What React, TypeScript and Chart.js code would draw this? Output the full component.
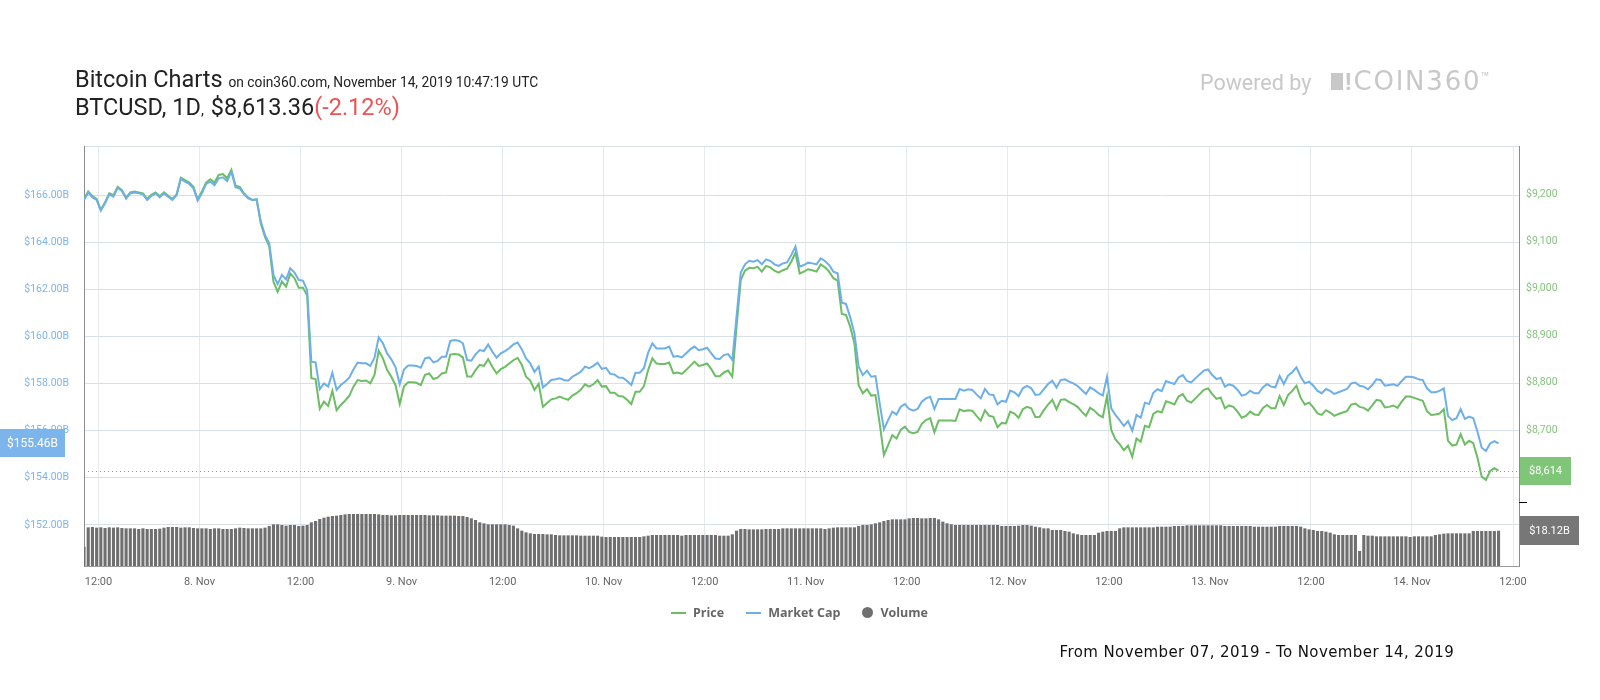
import React, { useEffect, useRef } from 'react';
import { Chart, registerables } from 'chart.js';

Chart.register(...registerables);

// ---------------- data ----------------
// half-hourly samples, x measured in hours since 7 Nov 2019 00:00
const START_HOUR = 10.28;
const STEP_HOURS = 0.5;
const X_MIN = 10.28;
const X_MAX = 180.71;

const TICK_HOURS = [12, 24, 36, 48, 60, 72, 84, 96, 108, 120, 132, 144, 156, 168, 180];
const TICK_LABELS = ['12:00', '8. Nov', '12:00', '9. Nov', '12:00', '10. Nov', '12:00', '11. Nov', '12:00', '12. Nov', '12:00', '13. Nov', '12:00', '14. Nov', '12:00'];

const CAP_TICKS = [152, 154, 156, 158, 160, 162, 164, 166];
const PRICE_TICKS = [8500, 8600, 8700, 8800, 8900, 9000, 9100, 9200];
const CAP_RANGE = [150.26, 168.08];
const PRICE_RANGE = [8411.4, 9302.5];
const VOLUME_RANGE = [0, 215.6];

// Market cap, billions USD
const MARKET_CAP = [
  165.79, 166.11, 165.90, 165.79, 165.34, 165.65, 166.03, 165.93, 166.31, 166.17,
  165.84, 166.07, 166.11, 166.07, 166.03, 165.79, 165.96, 166.07, 165.90, 166.07,
  165.93, 165.79, 165.99, 166.68, 166.57, 166.47, 166.28, 165.76, 166.07, 166.47,
  166.57, 166.42, 166.71, 166.75, 166.59, 166.99, 166.33, 166.28, 166.03, 165.86,
  165.79, 165.82, 164.87, 164.30, 163.95, 162.61, 162.22, 162.61, 162.42, 162.89,
  162.71, 162.39, 162.37, 161.97, 158.93, 158.90, 157.76, 158.01, 157.87, 158.46,
  157.73, 157.94, 158.08, 158.25, 158.60, 158.89, 158.86, 158.86, 158.75, 159.10,
  159.96, 159.71, 159.28, 159.03, 158.69, 157.98, 158.60, 158.77, 158.77, 158.75,
  158.67, 159.07, 159.11, 158.90, 158.96, 159.14, 159.14, 159.81, 159.85, 159.82,
  159.71, 159.00, 158.97, 159.24, 159.42, 159.38, 159.66, 159.35, 159.10, 159.28,
  159.38, 159.50, 159.66, 159.74, 159.45, 159.07, 158.86, 158.50, 158.72, 157.84,
  157.98, 158.15, 158.18, 158.22, 158.15, 158.12, 158.29, 158.39, 158.50, 158.72,
  158.65, 158.75, 158.89, 158.62, 158.67, 158.41, 158.39, 158.26, 158.25, 158.11,
  157.94, 158.46, 158.46, 158.65, 159.31, 159.71, 159.49, 159.49, 159.49, 159.57,
  159.14, 159.17, 159.11, 159.28, 159.45, 159.57, 159.42, 159.46, 159.52, 159.28,
  159.06, 159.04, 159.21, 159.25, 159.00, 160.84, 162.71, 163.06, 163.21, 163.17,
  163.24, 163.06, 163.27, 163.21, 163.06, 162.99, 163.10, 163.14, 163.45, 163.81,
  162.96, 163.03, 163.13, 163.10, 163.06, 163.31, 163.20, 163.03, 162.75, 162.68,
  161.43, 161.38, 160.81, 160.13, 158.72, 158.36, 158.55, 158.29, 158.32, 157.16,
  156.06, 156.45, 156.81, 156.69, 157.02, 157.13, 156.92, 156.85, 156.92, 157.23,
  157.37, 157.44, 156.92, 157.35, 157.35, 157.35, 157.35, 157.35, 157.77, 157.70,
  157.76, 157.73, 157.54, 157.37, 157.77, 157.54, 157.52, 157.12, 157.27, 157.23,
  157.70, 157.63, 157.47, 157.80, 157.90, 157.80, 157.52, 157.54, 157.76, 157.98,
  158.12, 157.83, 158.15, 158.18, 158.08, 158.01, 157.90, 157.73, 157.56, 157.84,
  157.73, 157.59, 157.49, 158.29, 156.95, 156.67, 156.45, 156.20, 156.41, 156.00,
  156.67, 156.55, 157.19, 157.13, 157.61, 157.76, 157.68, 158.11, 158.04, 157.98,
  158.26, 158.36, 158.11, 158.05, 158.22, 158.39, 158.55, 158.60, 158.36, 158.19,
  158.25, 157.87, 157.97, 157.91, 157.73, 157.49, 157.54, 157.70, 157.59, 157.59,
  157.84, 157.98, 157.87, 157.84, 158.32, 157.98, 158.34, 158.48, 158.69, 158.29,
  158.01, 158.08, 157.91, 157.69, 157.59, 157.77, 157.69, 157.56, 157.63, 157.70,
  157.77, 158.01, 158.04, 157.91, 157.87, 157.76, 157.94, 158.18, 158.15, 157.91,
  157.94, 157.97, 157.90, 158.11, 158.29, 158.29, 158.26, 158.18, 158.15, 157.80,
  157.63, 157.63, 157.69, 157.80, 156.62, 156.45, 156.53, 156.91, 156.50, 156.60,
  156.53, 155.96, 155.28, 155.14, 155.46, 155.56, 155.46,
];

// Price, USD
const PRICE = [
  9190, 9206, 9196, 9190, 9167, 9183, 9202, 9198, 9216, 9209,
  9193, 9204, 9206, 9204, 9202, 9190, 9199, 9204, 9196, 9204,
  9197, 9190, 9200, 9235, 9230, 9225, 9216, 9189, 9206, 9225,
  9232, 9225, 9241, 9243, 9234, 9252, 9218, 9216, 9202, 9193,
  9188, 9189, 9138, 9109, 9090, 9015, 8993, 9015, 9004, 9032,
  9022, 9002, 9002, 8986, 8810, 8808, 8745, 8760, 8751, 8783,
  8742, 8753, 8762, 8772, 8792, 8806, 8804, 8805, 8799, 8817,
  8868, 8852, 8827, 8813, 8795, 8755, 8792, 8801, 8801, 8800,
  8795, 8817, 8820, 8808, 8811, 8820, 8822, 8860, 8861, 8860,
  8854, 8814, 8813, 8827, 8838, 8836, 8850, 8834, 8820, 8829,
  8834, 8841, 8848, 8853, 8838, 8813, 8805, 8785, 8798, 8749,
  8757, 8765, 8767, 8771, 8767, 8764, 8773, 8778, 8785, 8797,
  8792, 8797, 8806, 8792, 8793, 8779, 8779, 8772, 8771, 8764,
  8755, 8781, 8781, 8793, 8827, 8852, 8841, 8840, 8840, 8843,
  8820, 8822, 8819, 8827, 8836, 8845, 8836, 8838, 8841, 8829,
  8814, 8814, 8822, 8826, 8813, 8919, 9018, 9038, 9044, 9043,
  9046, 9036, 9048, 9045, 9038, 9034, 9039, 9042, 9057, 9076,
  9032, 9036, 9041, 9039, 9036, 9051, 9045, 9036, 9022, 9017,
  8946, 8944, 8919, 8884, 8795, 8778, 8787, 8773, 8774, 8714,
  8647, 8668, 8689, 8682, 8700, 8707, 8696, 8693, 8696, 8713,
  8721, 8725, 8695, 8720, 8720, 8720, 8720, 8719, 8744, 8740,
  8742, 8741, 8730, 8720, 8742, 8730, 8728, 8706, 8715, 8714,
  8739, 8735, 8726, 8744, 8749, 8746, 8727, 8728, 8742, 8754,
  8764, 8744, 8764, 8765, 8759, 8755, 8749, 8739, 8730, 8747,
  8741, 8732, 8727, 8772, 8700, 8680, 8670, 8657, 8667, 8643,
  8682, 8675, 8709, 8706, 8734, 8740, 8737, 8761, 8758, 8754,
  8771, 8776, 8762, 8758, 8767, 8776, 8785, 8788, 8776, 8766,
  8769, 8746, 8752, 8749, 8739, 8726, 8730, 8739, 8733, 8732,
  8746, 8753, 8746, 8746, 8772, 8753, 8774, 8783, 8794, 8768,
  8754, 8758, 8748, 8735, 8732, 8742, 8737, 8730, 8734, 8737,
  8740, 8754, 8756, 8749, 8747, 8741, 8752, 8764, 8762, 8748,
  8749, 8752, 8747, 8760, 8771, 8771, 8768, 8765, 8762, 8740,
  8732, 8733, 8735, 8744, 8677, 8667, 8669, 8691, 8669, 8677,
  8672, 8641, 8601, 8594, 8613, 8619, 8614,
];

// Volume, billions USD
const VOLUME = [
  9.92, 19.85, 20.03, 19.68, 19.85, 19.52, 19.85, 19.68, 19.85, 19.52,
  19.33, 19.33, 19.33, 18.99, 19.33, 18.99, 18.99, 18.99, 19.16, 19.68,
  20.03, 20.03, 20.03, 19.68, 19.85, 19.85, 19.52, 19.33, 19.33, 19.33,
  18.99, 19.33, 19.33, 18.99, 18.99, 18.99, 19.33, 19.68, 19.52, 19.33,
  19.33, 19.33, 19.33, 19.68, 20.53, 21.39, 21.39, 21.05, 20.70, 21.05,
  21.05, 20.53, 20.70, 21.05, 22.41, 23.10, 24.13, 24.81, 25.32, 25.67,
  25.84, 26.18, 26.52, 26.69, 26.69, 26.69, 26.69, 26.69, 26.69, 26.69,
  26.52, 26.18, 26.18, 26.01, 26.01, 26.18, 26.18, 26.18, 26.18, 26.18,
  26.18, 26.18, 26.01, 26.01, 26.01, 25.84, 25.84, 25.84, 25.84, 25.67,
  25.67, 25.15, 24.47, 23.61, 22.41, 21.90, 21.39, 21.39, 21.39, 21.39,
  21.39, 21.05, 20.70, 19.33, 18.14, 17.28, 16.77, 16.43, 16.43, 16.43,
  16.25, 16.25, 15.91, 15.74, 15.74, 15.74, 15.74, 15.74, 15.57, 15.57,
  15.57, 15.57, 15.57, 15.06, 14.89, 14.89, 14.89, 14.89, 14.89, 14.89,
  14.89, 14.89, 14.89, 15.23, 15.57, 15.91, 15.91, 15.91, 15.91, 15.91,
  15.91, 15.91, 15.57, 15.91, 15.91, 15.91, 15.91, 15.91, 15.91, 15.91,
  15.91, 15.57, 15.57, 15.57, 16.25, 18.14, 18.99, 18.99, 18.82, 18.82,
  18.82, 18.82, 18.99, 18.99, 18.99, 18.99, 19.33, 19.33, 19.33, 19.33,
  19.33, 19.33, 19.33, 19.33, 19.33, 19.33, 18.99, 19.33, 19.68, 19.85,
  19.85, 19.85, 19.85, 19.85, 20.53, 21.05, 21.05, 21.39, 21.90, 22.41,
  23.10, 23.61, 23.95, 23.95, 23.95, 23.95, 24.47, 24.64, 24.64, 24.47,
  24.47, 24.64, 24.64, 23.95, 22.76, 21.90, 21.39, 21.05, 21.05, 21.05,
  21.05, 21.05, 21.05, 21.05, 21.05, 21.05, 21.05, 21.05, 20.53, 20.53,
  20.53, 20.53, 20.70, 21.05, 21.05, 20.70, 20.19, 19.85, 19.33, 19.33,
  18.48, 18.48, 18.48, 17.97, 17.62, 16.77, 16.25, 15.91, 15.91, 15.91,
  15.91, 17.11, 17.62, 17.97, 17.97, 17.97, 19.33, 19.85, 19.85, 19.85,
  19.85, 19.85, 19.85, 19.85, 19.85, 20.19, 20.19, 20.19, 20.19, 20.53,
  20.53, 20.53, 20.87, 20.87, 20.87, 20.87, 20.87, 20.87, 20.87, 20.87,
  20.87, 20.53, 20.53, 20.53, 20.53, 20.53, 20.53, 20.53, 20.19, 20.19,
  20.19, 20.19, 20.19, 20.19, 20.53, 20.53, 20.53, 20.53, 20.53, 20.19,
  19.33, 18.82, 18.48, 17.97, 17.97, 17.62, 17.11, 16.25, 15.91, 15.91,
  15.91, 15.91, 15.91, 7.70, 15.91, 15.57, 15.57, 15.23, 15.23, 15.23,
  15.23, 15.23, 15.23, 15.23, 15.23, 14.89, 15.23, 15.23, 15.23, 15.23,
  15.23, 15.91, 16.25, 16.60, 16.77, 16.77, 16.77, 16.77, 16.77, 16.77,
  17.97, 17.97, 17.97, 17.97, 17.97, 17.97, 18.12,
];

const TITLE = 'Bitcoin Charts';
const SUBTITLE = 'on coin360.com, November 14, 2019 10:47:19 UTC';
const PAIR = 'BTCUSD';
const INTERVAL = '1D';
const LIVE_PRICE = 8613.36;
const CHANGE_PCT = -2.12;
const RANGE_TEXT = 'From November 07, 2019 - To November 14, 2019';
const SERIES_NAMES = ['Price', 'Market Cap', 'Volume'];

// ---------------- styles ----------------
const PRICE_COLOR = '#6cbd63';
const CAP_COLOR = '#6cafe9';
const VOLUME_COLOR = '#6f6f6f';
const CAP_LABEL_COLOR = '#7cb5ec';
const PRICE_LABEL_COLOR = '#87c47f';
const PRICE_TAG_COLOR = '#7fc679';
const CAP_TAG_COLOR = '#7cb5ec';
const VOLUME_TAG_COLOR = '#777777';
const VOL_PANE_FRACTION = 0.153;

const FONT = 'Roboto, "Noto Sans", sans-serif';

const last = (a: number[]) => a[a.length - 1];

function drawTag(ctx: CanvasRenderingContext2D, x: number, yc: number, w: number, h: number, fill: string, text: string, size: number) {
  ctx.fillStyle = fill;
  ctx.fillRect(x, Math.round(yc - h / 2), w, h);
  ctx.fillStyle = '#ffffff';
  ctx.font = `${size}px ${FONT}`;
  ctx.textAlign = 'center';
  ctx.textBaseline = 'middle';
  ctx.fillText(text, x + w / 2, yc + 0.5);
}

const overlayPlugin = {
  id: 'overlayTags',
  beforeDatasetsDraw(chart: any) {
    const { ctx, chartArea, scales } = chart;
    const y = Math.round(scales.yPrice.getPixelForValue(last(PRICE))) + 0.5;
    ctx.save();
    ctx.strokeStyle = '#8d99a3';
    ctx.lineWidth = 1;
    ctx.setLineDash([1, 3]);
    ctx.beginPath();
    ctx.moveTo(chartArea.left, y);
    ctx.lineTo(chartArea.right, y);
    ctx.stroke();
    ctx.restore();
  },
  afterDraw(chart: any) {
    const { ctx, chartArea, scales } = chart;
    ctx.save();
    // volume pane tick on the right axis
    const yt = Math.round(chartArea.bottom - VOL_PANE_FRACTION * (chartArea.bottom - chartArea.top)) + 0.5;
    ctx.strokeStyle = '#000000';
    ctx.lineWidth = 1;
    ctx.beginPath();
    ctx.moveTo(chartArea.right, yt);
    ctx.lineTo(chartArea.right + 8, yt);
    ctx.stroke();

    const capY = scales.yCap.getPixelForValue(last(MARKET_CAP));
    drawTag(ctx, scales.yCap.left, capY, scales.yCap.width - 19, 28, CAP_TAG_COLOR, `$${last(MARKET_CAP).toFixed(2)}B`, 12);

    const priceY = scales.yPrice.getPixelForValue(last(PRICE));
    drawTag(ctx, chartArea.right + 1, priceY, 51, 28, PRICE_TAG_COLOR, `$${Math.round(last(PRICE)).toLocaleString('en-US')}`, 11);

    const volY = scales.yVol.getPixelForValue(last(VOLUME));
    drawTag(ctx, chartArea.right + 1, volY, 59, 29, VOLUME_TAG_COLOR, `$${last(VOLUME).toFixed(2)}B`, 11);
    ctx.restore();
  },
};

function ChartCanvas() {
  const ref = useRef<HTMLCanvasElement | null>(null);
  useEffect(() => {
    if (!ref.current) return;
    const toPoints = (arr: number[]) => arr.map((v, i) => ({ x: START_HOUR + STEP_HOURS * i, y: v }));
    const chart = new Chart(ref.current, {
      type: 'line',
      data: {
        datasets: [
          {
            type: 'line', label: SERIES_NAMES[0], data: toPoints(PRICE), yAxisID: 'yPrice',
            borderColor: PRICE_COLOR, borderWidth: 2, pointRadius: 0, tension: 0, fill: false, order: 2,
          },
          {
            type: 'line', label: SERIES_NAMES[1], data: toPoints(MARKET_CAP), yAxisID: 'yCap',
            borderColor: CAP_COLOR, borderWidth: 2, pointRadius: 0, tension: 0, fill: false, order: 1,
          },
          {
            type: 'bar', label: SERIES_NAMES[2], data: toPoints(VOLUME), yAxisID: 'yVol',
            backgroundColor: VOLUME_COLOR, borderWidth: 0, barPercentage: 0.74, categoryPercentage: 1, order: 3,
          },
        ] as any,
      },
      options: {
        animation: false,
        responsive: false,
        events: [],
        layout: { padding: { top: 146, left: 0, right: 0, bottom: 0 } },
        plugins: { legend: { display: false }, tooltip: { enabled: false } },
        scales: {
          x: {
            type: 'linear', min: X_MIN, max: X_MAX, offset: false,
            afterBuildTicks: (s: any) => { s.ticks = TICK_HOURS.map((v) => ({ value: v })); },
            afterFit: (s: any) => { s.height = 134; },
            ticks: {
              autoSkip: false, maxRotation: 0, padding: 10, color: '#666666',
              font: { family: FONT, size: 11 },
              callback: (_v: any, i: number) => TICK_LABELS[i],
            },
            grid: { color: '#e6eaee', drawTicks: false, offset: false },
            border: { color: '#9a9a9a' },
          },
          yCap: {
            type: 'linear', position: 'left', min: CAP_RANGE[0], max: CAP_RANGE[1],
            afterBuildTicks: (s: any) => { s.ticks = [...CAP_TICKS, CAP_RANGE[1]].map((v) => ({ value: v })); },
            afterFit: (s: any) => { s.width = 84; },
            ticks: {
              padding: 15, color: CAP_LABEL_COLOR, font: { family: FONT, size: 10.5 },
              callback: (v: any) => (v >= CAP_RANGE[1] ? '' : `$${Number(v).toFixed(2)}B`),
            },
            grid: { color: '#d6e0e8', drawTicks: false },
            border: { color: '#8c8c8c' },
          },
          yPrice: {
            type: 'linear', position: 'right', min: PRICE_RANGE[0], max: PRICE_RANGE[1],
            afterBuildTicks: (s: any) => { s.ticks = PRICE_TICKS.map((v) => ({ value: v })); },
            afterFit: (s: any) => { s.width = 81; },
            ticks: {
              padding: 7, color: PRICE_LABEL_COLOR, font: { family: FONT, size: 10.5 },
              callback: (v: any) => `$${Number(v).toLocaleString('en-US')}`,
            },
            grid: { display: false, drawTicks: false },
            border: { color: '#8c8c8c' },
          },
          yVol: { type: 'linear', display: false, min: VOLUME_RANGE[0], max: VOLUME_RANGE[1] },
        },
      } as any,
      plugins: [overlayPlugin],
    });
    return () => chart.destroy();
  }, []);
  return <canvas ref={ref} width={1600} height={700} style={{ position: 'absolute', left: 0, top: 0, width: 1600, height: 700 }} />;
}

function LegendItem({ kind, color, text }: { kind: 'line' | 'circle'; color: string; text: string }) {
  return (
    <div style={{ display: 'flex', alignItems: 'center' }}>
      {kind === 'line' ? (
        <span style={{ display: 'inline-block', width: 15, height: 2, background: color }} />
      ) : (
        <span style={{ display: 'inline-block', width: 11, height: 11, borderRadius: '50%', background: color }} />
      )}
      <span style={{ marginLeft: 7 }}>{text}</span>
    </div>
  );
}

export default function App() {
  const livePrice = LIVE_PRICE.toLocaleString('en-US', { minimumFractionDigits: 2, maximumFractionDigits: 2 });
  return (
    <div style={{ position: 'absolute', left: 0, top: 0, width: 1600, height: 700, background: '#ffffff', overflow: 'hidden' }}>
      <ChartCanvas />
      <div style={{ position: 'absolute', left: 75, top: 66.7, fontFamily: FONT, fontSize: 23.5, lineHeight: '24px', color: '#222', whiteSpace: 'nowrap' }}>
        {TITLE} <span style={{ fontSize: 13.75 }}>{SUBTITLE}</span>
      </div>
      <div style={{ position: 'absolute', left: 75, top: 94.5, fontFamily: FONT, fontSize: 23.5, lineHeight: '24px', color: '#222', whiteSpace: 'pre' }}>
        {PAIR}, {INTERVAL}<span style={{ fontSize: 15, marginRight: 7 }}>,</span>${livePrice}
        <span style={{ color: '#ea5455' }}>({CHANGE_PCT.toFixed(2)}%)</span>
      </div>
      <div style={{ position: 'absolute', left: 1200, top: 64.2, fontFamily: FONT, fontSize: 21.5, lineHeight: '26px', color: '#c8c8c8', whiteSpace: 'nowrap' }}>
        Powered by
        <span style={{ display: 'inline-block', width: 11.6, height: 17.3, background: '#c8c8c8', marginLeft: 20 }} />
        <span style={{ fontSize: 24, fontWeight: 700, marginLeft: 2 }}>!</span>
        <span style={{ fontFamily: '"DejaVu Sans", sans-serif', fontWeight: 400, fontSize: 26, letterSpacing: 1.8, marginLeft: 2 }}>COIN360</span>
        <span style={{ fontSize: 14, verticalAlign: 8, marginLeft: -1 }}>™</span>
      </div>
      <div style={{ position: 'absolute', left: 671, top: 604.7, height: 16, display: 'flex', alignItems: 'center', gap: 22, fontFamily: '"Open Sans", sans-serif', fontWeight: 700, fontSize: 12.5, color: '#666666', whiteSpace: 'nowrap' }}>
        <LegendItem kind="line" color={PRICE_COLOR} text={SERIES_NAMES[0]} />
        <LegendItem kind="line" color={CAP_COLOR} text={SERIES_NAMES[1]} />
        <LegendItem kind="circle" color={VOLUME_COLOR} text={SERIES_NAMES[2]} />
      </div>
      <div style={{ position: 'absolute', left: 1059.5, top: 643.1, fontFamily: '"DejaVu Sans", sans-serif', fontSize: 15, lineHeight: '18px', letterSpacing: 0.4, color: '#111', whiteSpace: 'nowrap' }}>
        {RANGE_TEXT}
      </div>
    </div>
  );
}
